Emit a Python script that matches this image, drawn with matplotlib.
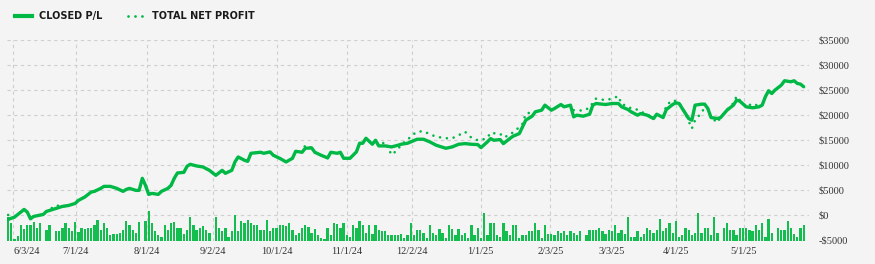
import matplotlib
matplotlib.use("Agg")
import matplotlib.pyplot as plt
from matplotlib.lines import Line2D
import numpy as np

# ---------------- data ----------------
tick_labels = ["6/3/24", "7/1/24", "8/1/24", "9/2/24", "10/1/24", "11/1/24",
               "12/2/24", "1/1/25", "2/3/25", "3/3/25", "4/1/25", "5/1/25"]
tick_pos = [1.6, 21.2, 43.4, 64.0, 84.2, 106.1, 126.4, 147.9, 169.7, 188.8, 209.0, 230.3]

line_idx = [0, 2, 4, 5, 6, 7, 8, 11, 12, 15, 17, 19, 21, 22, 24, 26, 27, 29, 30, 32,
            34, 36, 37, 38, 40, 41, 42, 43, 44, 45, 47, 48, 50, 51, 52, 53, 55, 56, 57, 59,
            61, 63, 65, 67, 68, 70, 71, 72, 74, 75, 76, 79, 80, 82, 83, 85, 87, 89, 90, 92,
            93, 95, 96, 98, 100, 101, 103, 104, 105, 107, 109, 110, 111, 112, 114, 115, 116, 118, 120, 122,
            123, 125, 126, 128, 130, 132, 134, 137, 139, 141, 143, 145, 147, 148, 150, 151, 152, 154, 155, 157,
            158, 160, 161, 162, 164, 165, 167, 168, 170, 171, 173, 174, 176, 177, 178, 180, 182, 183, 184, 187,
            189, 191, 192, 194, 195, 197, 198, 200, 202, 203, 205, 206, 208, 209, 210, 212, 213, 214, 215, 217,
            218, 219, 220, 222, 223, 225, 227, 228, 229, 231, 233, 235, 236, 237, 238, 239, 240, 242, 243, 245,
            246, 247, 248, 249]

closed_pl = [-800, -330, 670, 1200, 670, -670, -200, 200, 800, 1400, 1800, 2000, 2400, 3000, 3670, 4670, 4800, 5400, 5800, 5800,
             5400, 4800, 5200, 5400, 5000, 5000, 7400, 6000, 4200, 4400, 4200, 4800, 5400, 6000, 7400, 8470, 8600, 9800, 10200, 9870,
             9670, 9000, 8000, 9000, 8400, 9000, 10670, 11670, 11000, 10800, 12400, 12600, 12400, 12670, 12000, 11400, 10670, 11400, 12800, 12600,
             13400, 13470, 12600, 12000, 11470, 12600, 12400, 12600, 11400, 11400, 12670, 14400, 14400, 15400, 14200, 15000, 13870, 13870, 13670, 14000,
             14200, 14400, 14670, 15200, 15200, 14670, 14000, 13400, 13670, 14200, 14330, 14200, 14130, 13530, 14670, 15330, 15000, 15130, 14330, 15330,
             15800, 16330, 17670, 19000, 19800, 20670, 21000, 22000, 21000, 21330, 22130, 21670, 22000, 19670, 20000, 19800, 20200, 22000, 22330, 22130,
             22330, 22330, 21670, 21130, 20670, 20000, 20330, 20000, 19330, 20200, 19530, 21130, 22130, 22470, 22330, 20330, 19330, 19000, 22000, 22200,
             22200, 21330, 19530, 19330, 19530, 21000, 22000, 23000, 22800, 21670, 21470, 21670, 22000, 23670, 24870, 24330, 25000, 26000, 26870, 26670,
             26870, 26330, 26200, 25670]

total_net_profit = [100, -330, 670, 1200, 670, -670, -200, 200, 800, 2000, 1800, 2000, 2400, 3000, 3670, 4670, 4800, 5400, 5800, 5800,
                    5400, 4800, 5200, 5400, 5000, 5000, 7400, 6000, 4200, 4400, 4200, 4800, 5400, 6000, 7400, 8470, 8600, 9800, 10200, 9870,
                    9670, 9000, 8000, 9000, 8400, 9000, 10670, 11670, 11000, 10800, 12400, 12600, 12400, 12670, 12000, 11400, 10670, 11400, 12800, 12600,
                    14000, 13470, 12600, 12000, 11470, 12600, 12400, 12600, 11400, 11400, 12670, 14400, 14400, 15400, 14200, 15000, 13870, 14670, 12100, 13130,
                    14200, 15000, 15800, 16700, 16800, 16200, 15700, 15400, 15400, 16000, 16700, 15500, 15000, 15000, 15500, 16500, 16400, 16300, 15600, 16000,
                    16600, 17600, 18300, 20300, 20600, 20670, 21000, 22000, 21000, 21330, 22130, 21670, 22000, 21000, 21000, 20900, 21500, 22500, 23300, 23000,
                    23300, 23800, 22200, 21800, 21300, 21100, 20700, 20200, 19330, 20200, 19530, 22000, 23000, 22800, 22500, 20330, 18800, 17330, 19000, 20500,
                    21500, 21330, 19530, 18530, 19600, 21100, 22400, 23800, 23000, 21670, 22330, 21800, 22000, 23670, 24870, 24330, 25000, 26000, 26870, 26670,
                    26870, 26330, 26200, 25670]

# daily bars, drawn up from the -$5000 floor
bar_vals = [4670, 3470, 200, 800, 3000, 2330, 3000, 3000, 3670, 2470, 3470, 0, 2000, 3000, 0, 1800, 1800, 2530, 3470, 2470,
            1800, 3670, 1670, 2470, 2200, 2470, 2470, 3000, 4130, 2130, 3470, 2470, 1000, 1330, 1330, 1470, 2130, 3870, 3000, 2000,
            1470, 3670, 0, 3870, 5870, 3470, 1800, 1000, 670, 3000, 2130, 3470, 3670, 2470, 2470, 1330, 2130, 4670, 3000, 2130,
            2470, 2800, 2130, 1470, 0, 4670, 2470, 1800, 2470, 670, 1800, 5000, 1800, 3800, 3470, 4130, 3470, 3000, 3000, 2130,
            2130, 4130, 1800, 2470, 2470, 3130, 3000, 2800, 3470, 2130, 1000, 1470,
            2470, 3000, 2670, 1470, 2330, 1000, 470, 200, 2470, 1000, 3530, 3330, 2470, 3470, 1130, 670, 3130, 2470, 3800, 3130,
            1470, 3000, 1330, 3000, 2130, 1800, 1800, 1000, 1000, 1000, 1000, 1330, 470, 1000, 3530, 1000, 2000, 2130, 1470, 470,
            3000, 1470, 1000, 2200, 1470, 470, 3000, 2200, 1000, 2200, 1000, 1470, 470, 3000, 1000, 2470, 470, 5530, 1000, 3530,
            3530, 1000, 670, 3530, 1800, 1000, 3000, 3130, 470, 1000, 1000, 1800, 1800, 3530, 2130, 470, 3000, 1330, 1330, 1000,
            1800, 1470, 1800, 1000, 1800, 1530, 1000,
            1800, 0, 1000, 2130, 2130, 2130, 2470, 1800, 1330, 2130, 1800, 3000, 1470, 2130, 1330, 4670, 670, 670, 1800, 670,
            1330, 2470, 2130, 1470, 2130, 4200, 1800, 2470, 3530, 1470, 3800, 670, 1000, 2470, 2130, 1000, 1470, 5470, 1470, 2470,
            2470, 1000, 4670, 1470, 0, 2470, 3530, 2130, 2130, 1000, 2470, 2470, 2470, 2130, 1800, 3000, 2130, 3530, 670, 4200,
            1470, 0, 2470, 2130, 2130, 3800, 2470, 1330, 670, 2470, 3000]

y_ticks = [-5000, 0, 5000, 10000, 15000, 20000, 25000, 30000, 35000]
y_labels = ["-$5000", "$0", "$5000", "$10000", "$15000", "$20000", "$25000", "$30000", "$35000"]

# ---------------- style ----------------
W, H = 875, 264
BG = "#f4f4f4"
GREEN = "#00b845"
BAR_GREEN = "#13bd4e"
GRID = "#cfcfcf"
TEXT = "#333333"

fig = plt.figure(figsize=(W / 100, H / 100), dpi=100, facecolor=BG)
ax = fig.add_axes([6.5 / W, 1 - 240.5 / H, (808.5 - 6.5) / W, (240.5 - 40) / H])
ax.set_facecolor(BG)

floor = -5000
ax.bar(np.arange(len(bar_vals)), bar_vals, bottom=floor, width=0.72,
       color=BAR_GREEN, linewidth=0, zorder=2)

ax.plot(line_idx, total_net_profit, color=GREEN, lw=1.9,
        linestyle=(0, (0.01, 2.6)), dash_capstyle="round", zorder=3)
ax.plot(line_idx, closed_pl, color=GREEN, lw=2.4, solid_joinstyle="round",
        solid_capstyle="round", zorder=4)

ax.set_xlim(-0.5, 250.5)
ax.set_ylim(-5000, 35000)

for s in ax.spines.values():
    s.set_visible(False)

ax.set_xticks(tick_pos)
ax.set_xticklabels(tick_labels)
ax.set_yticks(y_ticks)
ax.set_yticklabels(y_labels)
ax.yaxis.tick_right()
ax.tick_params(axis="both", length=0, colors=TEXT, labelsize=7.5)
ax.tick_params(axis="y", pad=7.5)
ax.tick_params(axis="x", pad=5)
for lab in ax.get_xticklabels() + ax.get_yticklabels():
    lab.set_fontfamily("Liberation Serif")
ax.get_xticklabels()[0].set_horizontalalignment("left")

ax.grid(True, color=GRID, linestyle=(0, (3, 3)), linewidth=0.8, zorder=0)
ax.set_axisbelow(True)

handles = [Line2D([], [], color=GREEN, lw=3.0),
           Line2D([], [], color=GREEN, lw=2.0, linestyle=(0, (0.01, 2.5)), dash_capstyle="round")]
leg = fig.legend(handles, ["CLOSED P/L", "TOTAL NET PROFIT"], loc="center left",
                 bbox_to_anchor=(15 / W, 1 - 16 / H), ncol=2, frameon=False,
                 handlelength=1.7, handletextpad=0.75, columnspacing=2.7,
                 borderpad=0, borderaxespad=0,
                 prop={"family": "DejaVu Sans", "weight": "bold", "size": 7})
for t in leg.get_texts():
    t.set_color("#1a1a1a")

fig.savefig("out.png", dpi=100, facecolor=BG)
